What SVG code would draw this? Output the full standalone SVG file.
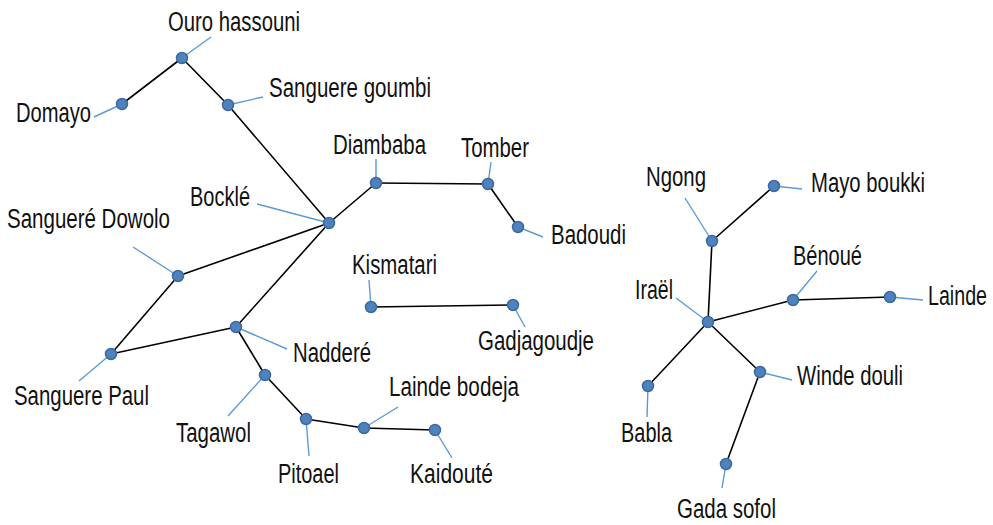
<svg xmlns="http://www.w3.org/2000/svg" width="993" height="525" viewBox="0 0 993 525">
<style>
.e{stroke:#000;stroke-width:1.6;fill:none;stroke-linecap:round}
.l{stroke:#5b9bd5;stroke-width:1.4;fill:none}
.n{fill:#4f81bd;stroke:#3a6aa0;stroke-width:1.5}
text{font-family:"Liberation Sans",Arial,sans-serif;font-size:27px;fill:#111}
</style>
<rect width="993" height="525" fill="#fff"/>
<g id="connectors">
<line class="e" x1="182" y1="58" x2="122" y2="104"/>
<line class="e" x1="182" y1="58" x2="228" y2="105"/>
<line class="e" x1="228" y1="105" x2="329" y2="223"/>
<line class="e" x1="329" y1="223" x2="376" y2="183"/>
<line class="e" x1="376" y1="183" x2="488" y2="184"/>
<line class="e" x1="488" y1="184" x2="518" y2="227"/>
<line class="e" x1="329" y1="223" x2="178" y2="276"/>
<line class="e" x1="329" y1="223" x2="236" y2="327"/>
<line class="e" x1="178" y1="276" x2="111" y2="354"/>
<line class="e" x1="111" y1="354" x2="236" y2="327"/>
<line class="e" x1="236" y1="327" x2="265" y2="375"/>
<line class="e" x1="265" y1="375" x2="306" y2="419"/>
<line class="e" x1="306" y1="419" x2="364" y2="428"/>
<line class="e" x1="364" y1="428" x2="435" y2="430"/>
<line class="e" x1="371" y1="307" x2="513" y2="305"/>
<line class="e" x1="712" y1="241" x2="774" y2="186"/>
<line class="e" x1="712" y1="241" x2="708" y2="322"/>
<line class="e" x1="708" y1="322" x2="793" y2="300"/>
<line class="e" x1="793" y1="300" x2="890" y2="297"/>
<line class="e" x1="708" y1="322" x2="648" y2="386"/>
<line class="e" x1="708" y1="322" x2="760" y2="372"/>
<line class="e" x1="760" y1="372" x2="726" y2="464"/>
</g>
<g id="ouro-hassouni"><line class="l" x1="182" y1="58" x2="211" y2="37"/><circle class="n" cx="182" cy="58" r="5.5"/><text x="168" y="31" textLength="132" lengthAdjust="spacingAndGlyphs">Ouro hassouni</text></g>
<g id="domayo"><line class="l" x1="122" y1="104" x2="94" y2="117"/><circle class="n" cx="122" cy="104" r="5.5"/><text x="16" y="122" textLength="75" lengthAdjust="spacingAndGlyphs">Domayo</text></g>
<g id="sanguere-goumbi"><line class="l" x1="228" y1="105" x2="263" y2="97"/><circle class="n" cx="228" cy="105" r="5.5"/><text x="269" y="97" textLength="162" lengthAdjust="spacingAndGlyphs">Sanguere goumbi</text></g>
<g id="diambaba"><line class="l" x1="376" y1="183" x2="376" y2="159"/><circle class="n" cx="376" cy="183" r="5.5"/><text x="333" y="154" textLength="93" lengthAdjust="spacingAndGlyphs">Diambaba</text></g>
<g id="bockle"><line class="l" x1="257" y1="204" x2="329" y2="223"/><circle class="n" cx="329" cy="223" r="5.5"/><text x="190" y="206" textLength="60" lengthAdjust="spacingAndGlyphs">Bocklé</text></g>
<g id="tomber"><line class="l" x1="488" y1="184" x2="491" y2="162"/><circle class="n" cx="488" cy="184" r="5.5"/><text x="461" y="157" textLength="68" lengthAdjust="spacingAndGlyphs">Tomber</text></g>
<g id="badoudi"><line class="l" x1="518" y1="227" x2="543" y2="237"/><circle class="n" cx="518" cy="227" r="5.5"/><text x="551" y="244" textLength="75" lengthAdjust="spacingAndGlyphs">Badoudi</text></g>
<g id="sanguere-dowolo"><line class="l" x1="133" y1="247" x2="178" y2="276"/><circle class="n" cx="178" cy="276" r="5.5"/><text x="7" y="228" textLength="163" lengthAdjust="spacingAndGlyphs">Sangueré Dowolo</text></g>
<g id="sanguere-paul"><line class="l" x1="111" y1="354" x2="79" y2="381"/><circle class="n" cx="111" cy="354" r="5.5"/><text x="14" y="405" textLength="135" lengthAdjust="spacingAndGlyphs">Sanguere Paul</text></g>
<g id="naddere"><line class="l" x1="236" y1="327" x2="287" y2="349"/><circle class="n" cx="236" cy="327" r="5.5"/><text x="293" y="362" textLength="78" lengthAdjust="spacingAndGlyphs">Nadderé</text></g>
<g id="tagawol"><line class="l" x1="265" y1="375" x2="228" y2="416"/><circle class="n" cx="265" cy="375" r="5.5"/><text x="176" y="442" textLength="75" lengthAdjust="spacingAndGlyphs">Tagawol</text></g>
<g id="pitoael"><line class="l" x1="306" y1="419" x2="309" y2="456"/><circle class="n" cx="306" cy="419" r="5.5"/><text x="278" y="483" textLength="61" lengthAdjust="spacingAndGlyphs">Pitoael</text></g>
<g id="lainde-bodeja"><line class="l" x1="364" y1="428" x2="398" y2="407"/><circle class="n" cx="364" cy="428" r="5.5"/><text x="389" y="396" textLength="130" lengthAdjust="spacingAndGlyphs">Lainde bodeja</text></g>
<g id="kaidoute"><line class="l" x1="435" y1="430" x2="452" y2="458"/><circle class="n" cx="435" cy="430" r="5.5"/><text x="410" y="483" textLength="83" lengthAdjust="spacingAndGlyphs">Kaidouté</text></g>
<g id="kismatari"><line class="l" x1="371" y1="307" x2="369" y2="280"/><circle class="n" cx="371" cy="307" r="5.5"/><text x="352" y="274" textLength="85" lengthAdjust="spacingAndGlyphs">Kismatari</text></g>
<g id="gadjagoudje"><line class="l" x1="513" y1="305" x2="525" y2="327"/><circle class="n" cx="513" cy="305" r="5.5"/><text x="478" y="350" textLength="116" lengthAdjust="spacingAndGlyphs">Gadjagoudje</text></g>
<g id="ngong"><line class="l" x1="685" y1="198" x2="712" y2="241"/><circle class="n" cx="712" cy="241" r="5.5"/><text x="646" y="186" textLength="60" lengthAdjust="spacingAndGlyphs">Ngong</text></g>
<g id="mayo-boukki"><line class="l" x1="774" y1="186" x2="802" y2="189"/><circle class="n" cx="774" cy="186" r="5.5"/><text x="811" y="192" textLength="114" lengthAdjust="spacingAndGlyphs">Mayo boukki</text></g>
<g id="irael"><line class="l" x1="676" y1="298" x2="708" y2="322"/><circle class="n" cx="708" cy="322" r="5.5"/><text x="635" y="299" textLength="38" lengthAdjust="spacingAndGlyphs">Iraël</text></g>
<g id="benoue"><line class="l" x1="817" y1="271" x2="793" y2="300"/><circle class="n" cx="793" cy="300" r="5.5"/><text x="793" y="265" textLength="69" lengthAdjust="spacingAndGlyphs">Bénoué</text></g>
<g id="lainde"><line class="l" x1="890" y1="297" x2="923" y2="300"/><circle class="n" cx="890" cy="297" r="5.5"/><text x="928" y="305" textLength="59" lengthAdjust="spacingAndGlyphs">Lainde</text></g>
<g id="winde-douli"><line class="l" x1="760" y1="372" x2="792" y2="380"/><circle class="n" cx="760" cy="372" r="5.5"/><text x="797" y="385" textLength="106" lengthAdjust="spacingAndGlyphs">Winde douli</text></g>
<g id="babla"><line class="l" x1="648" y1="386" x2="647" y2="417"/><circle class="n" cx="648" cy="386" r="5.5"/><text x="621" y="442" textLength="51" lengthAdjust="spacingAndGlyphs">Babla</text></g>
<g id="gada-sofol"><line class="l" x1="726" y1="464" x2="722" y2="488"/><circle class="n" cx="726" cy="464" r="5.5"/><text x="677" y="518" textLength="99" lengthAdjust="spacingAndGlyphs">Gada sofol</text></g>
</svg>
